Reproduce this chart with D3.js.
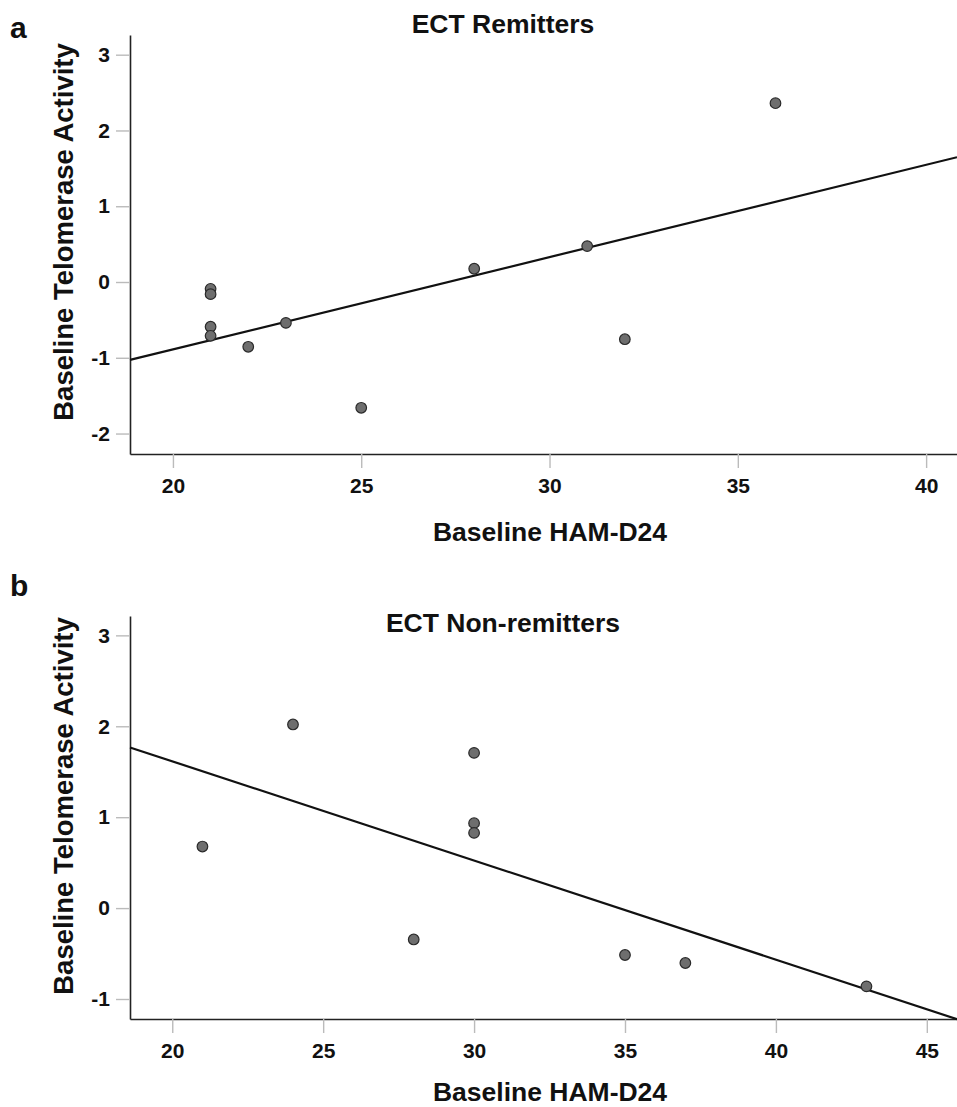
<!DOCTYPE html>
<html>
<head>
<meta charset="utf-8">
<script src="https://cdn.jsdelivr.net/npm/d3@7"></script>
<style>
  body { margin: 0; background: #fff; }
  svg { display: block; }
</style>
</head>
<body>
<div id="chart"></div>
<script>
// Panel a: ECT remitters
var remitHam = [21, 21, 21, 21, 22, 23, 25, 28, 31, 32, 36];
var remitTel = [-0.09, -0.16, -0.59, -0.71, -0.855, -0.54, -1.66, 0.175, 0.474, -0.755, 2.36];
// Panel b: ECT non-remitters
var nonRemitHam = [21, 24, 28, 30, 30, 30, 35, 37, 43];
var nonRemitTel = [0.677, 2.02, -0.345, 1.707, 0.934, 0.827, -0.516, -0.604, -0.861];

var xTicksA = [20, 25, 30, 35, 40];
var yTicksA = [-2, -1, 0, 1, 2, 3];
var xTicksB = [20, 25, 30, 35, 40, 45];
var yTicksB = [-1, 0, 1, 2, 3];

var width = 957, height = 1107;
var font = "'Liberation Sans', Arial, sans-serif";

var svg = d3.select("#chart").append("svg")
    .attr("width", width)
    .attr("height", height)
    .attr("font-family", font);

// least squares fit, same as the reference's fit line
function fit(xs, ys) {
    var mx = d3.mean(xs), my = d3.mean(ys);
    var sxy = d3.sum(xs, (x, i) => (x - mx) * (ys[i] - my));
    var sxx = d3.sum(xs, x => (x - mx) * (x - mx));
    var b = sxy / sxx;
    return { slope: b, icept: my - b * mx };
}

function panel(opt) {
    var x = d3.scaleLinear().domain(opt.xDomain).range([opt.left, opt.right]);
    var y = d3.scaleLinear().domain(opt.yDomain).range([opt.bottom, opt.top]);
    var g = svg.append("g");

    // panel letter
    g.append("text")
        .attr("x", 10).attr("y", opt.letterY)
        .attr("font-size", 30).attr("font-weight", "bold")
        .attr("fill", "#111")
        .text(opt.letter);

    // title
    g.append("text")
        .attr("x", 503).attr("y", opt.titleY)
        .attr("text-anchor", "middle")
        .attr("font-size", 26.5).attr("font-weight", "bold")
        .attr("fill", "#111")
        .text(opt.title);

    // axes (plain hyphen for negatives, like the reference)
    var fmt = d => String(d);
    var xAxis = g.append("g")
        .attr("transform", `translate(0,${opt.bottom})`)
        .call(d3.axisBottom(x).tickValues(opt.xTicks).tickFormat(fmt).tickSize(14).tickPadding(10).tickSizeOuter(0));
    var yAxis = g.append("g")
        .attr("transform", `translate(${opt.left},0)`)
        .call(d3.axisLeft(y).tickValues(opt.yTicks).tickFormat(fmt).tickSize(14).tickPadding(6).tickSizeOuter(0));

    [xAxis, yAxis].forEach(function (ax) {
        ax.select(".domain").attr("stroke", "#222").attr("stroke-width", 1.6);
        ax.selectAll(".tick line").attr("stroke", "#bbb").attr("stroke-width", 1.4);
        ax.selectAll(".tick text")
            .attr("font-family", font)
            .attr("font-size", 21).attr("font-weight", "bold")
            .attr("fill", "#111");
    });

    // axis titles
    g.append("text")
        .attr("x", 550).attr("y", opt.xLabelY)
        .attr("text-anchor", "middle")
        .attr("font-size", 26.5).attr("font-weight", "bold")
        .attr("fill", "#111")
        .text("Baseline HAM-D24");
    g.append("text")
        .attr("transform", `translate(73,${opt.yLabelMid}) rotate(-90)`)
        .attr("text-anchor", "middle")
        .attr("font-size", 27.5).attr("font-weight", "bold")
        .attr("fill", "#111")
        .text("Baseline Telomerase Activity");

    // fit line over the whole x range
    var f = fit(opt.xs, opt.ys);
    var xd = x.domain();
    g.append("line")
        .attr("x1", x(xd[0])).attr("y1", y(f.icept + f.slope * xd[0]))
        .attr("x2", x(xd[1])).attr("y2", y(f.icept + f.slope * xd[1]))
        .attr("stroke", "#111").attr("stroke-width", 2.2);

    // points
    g.append("g")
        .selectAll("circle")
        .data(d3.range(opt.xs.length))
        .join("circle")
        .attr("cx", i => x(opt.xs[i]))
        .attr("cy", i => y(opt.ys[i]))
        .attr("r", 5.3)
        .attr("fill", "#6e6e6e")
        .attr("stroke", "#2a2a2a")
        .attr("stroke-width", 1.2);
}

panel({
    letter: "a", letterY: 38, title: "ECT Remitters", titleY: 33,
    xs: remitHam, ys: remitTel,
    xDomain: [18.86, 40.82], yDomain: [-2.27, 3.26],
    xTicks: xTicksA, yTicks: yTicksA,
    left: 130, right: 957, top: 35, bottom: 454,
    xLabelY: 541, yLabelMid: 232
});

panel({
    letter: "b", letterY: 596, title: "ECT Non-remitters", titleY: 632,
    xs: nonRemitHam, ys: nonRemitTel,
    xDomain: [18.6, 46.0], yDomain: [-1.22, 3.213],
    xTicks: xTicksB, yTicks: yTicksB,
    left: 130, right: 957, top: 616, bottom: 1019,
    xLabelY: 1101, yLabelMid: 806
});
</script>
</body>
</html>
